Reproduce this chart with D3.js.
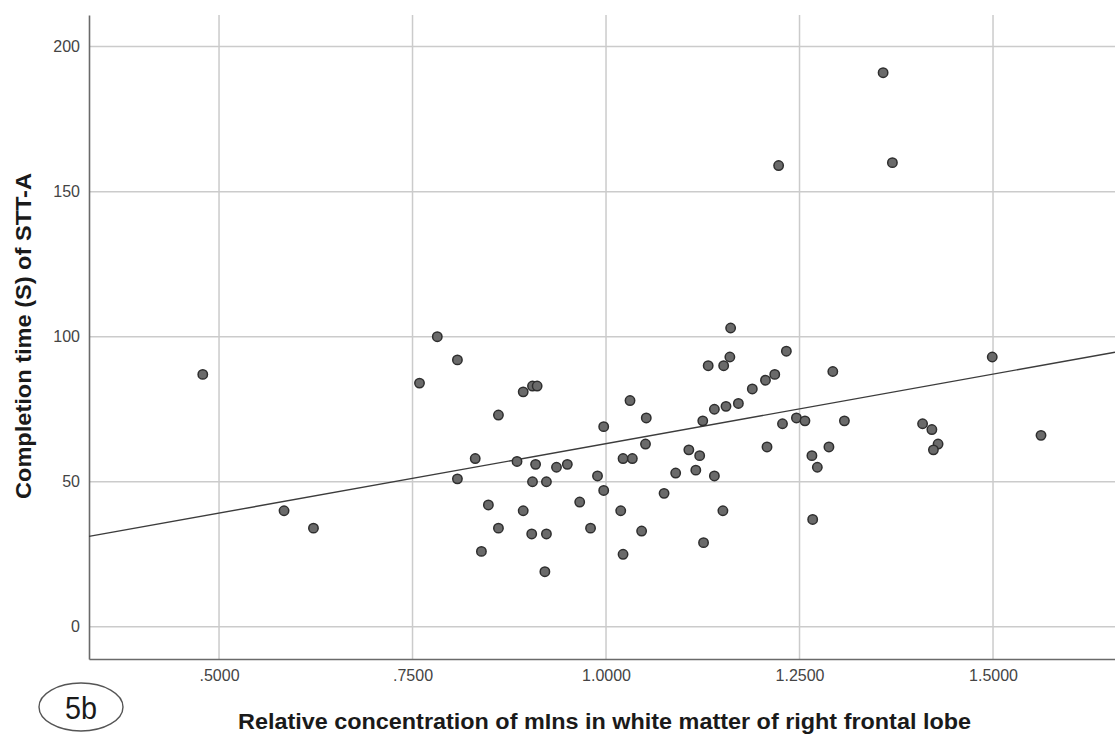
<!DOCTYPE html>
<html>
<head>
<meta charset="utf-8">
<script src="https://cdn.jsdelivr.net/npm/d3@7"></script>
<style>
  html, body { margin: 0; padding: 0; background: #fff; }
  svg { display: block; font-family: "Liberation Sans", Arial, sans-serif; }
</style>
</head>
<body>
<div id="chart"></div>
<script>
// data
var xTicks = [0.5, 0.75, 1.0, 1.25, 1.5];
var xTickLabels = [".5000", ".7500", "1.0000", "1.2500", "1.5000"];
var yTicks = [0, 50, 100, 150, 200];
var yTickLabels = ["0", "50", "100", "150", "200"];

// relative concentration of mIns (x) and completion time in seconds (y)
var concValues = [
  0.479, 0.584, 0.622, 0.782, 0.808, 0.759, 0.893, 0.905, 0.911, 0.861,
  0.997, 1.031, 1.052, 1.051, 0.831, 0.885, 0.909, 0.936, 0.950, 0.808,
  0.905, 0.923, 0.989, 0.997, 1.022, 1.034, 1.090, 1.075, 0.848, 0.893,
  0.966, 1.019, 0.861, 0.904, 0.923, 0.980, 1.046, 0.839, 1.022, 0.921,
  1.161, 1.233, 1.160, 1.132, 1.152, 1.293, 1.218, 1.206, 1.189, 1.171,
  1.155, 1.140, 1.125, 1.228, 1.246, 1.257, 1.308, 1.107, 1.121, 1.208,
  1.288, 1.266, 1.273, 1.116, 1.140, 1.151, 1.267, 1.126, 1.499, 1.409,
  1.421, 1.429, 1.423, 1.562, 1.358, 1.223, 1.370
];
var timeValues = [
  87, 40, 34, 100, 92, 84, 81, 83, 83, 73,
  69, 78, 72, 63, 58, 57, 56, 55, 56, 51,
  50, 50, 52, 47, 58, 58, 53, 46, 42, 40,
  43, 40, 34, 32, 32, 34, 33, 26, 25, 19,
  103, 95, 93, 90, 90, 88, 87, 85, 82, 77,
  76, 75, 71, 70, 72, 71, 71, 61, 59, 62,
  62, 59, 55, 54, 52, 40, 37, 29, 93, 70,
  68, 63, 61, 66, 191, 159, 160
];

// linear fit line
var fitIntercept = 15.25;
var fitSlope = 47.9;

var xTitle = "Relative concentration of mIns in white matter of right frontal lobe";
var yTitle = "Completion time (S) of STT-A";
var panelLabel = "5b";

var width = 1115, height = 734;

var svg = d3.select("#chart").append("svg")
  .attr("width", width)
  .attr("height", height);

var x = d3.scaleLinear().domain([0.332, 1.6576]).range([89, 1115]);
var y = d3.scaleLinear().domain([-11.1, 210.9]).range([659, 15]);

// grid
var grid = svg.append("g").attr("class", "grid");
grid.selectAll(".hgrid")
  .data(yTicks)
  .enter().append("line")
  .attr("x1", x.range()[0]).attr("x2", x.range()[1])
  .attr("y1", d => y(d)).attr("y2", d => y(d))
  .attr("stroke", "#cbcbcb").attr("stroke-width", 1.5);
grid.selectAll(".vgrid")
  .data(xTicks)
  .enter().append("line")
  .attr("x1", d => x(d)).attr("x2", d => x(d))
  .attr("y1", y.range()[0]).attr("y2", y.range()[1])
  .attr("stroke", "#cbcbcb").attr("stroke-width", 1.5);

// axes
var xAxis = d3.axisBottom(x).tickValues(xTicks)
  .tickFormat((d, i) => xTickLabels[i]).tickSize(0).tickPadding(11);
var yAxis = d3.axisLeft(y).tickValues(yTicks)
  .tickFormat((d, i) => yTickLabels[i]).tickSize(0).tickPadding(9);

var gx = svg.append("g").attr("transform", "translate(0," + y.range()[0] + ")").call(xAxis);
var gy = svg.append("g").attr("transform", "translate(" + x.range()[0] + ",0)").call(yAxis);
[gx, gy].forEach(function(g) {
  g.select(".domain").attr("stroke", "#6a6a6a").attr("stroke-width", 1.6);
  g.selectAll("text")
    .attr("fill", "#444")
    .style("font-size", "16px")
    .style("font-family", "'Liberation Sans', Arial, sans-serif");
});

// fit line
var fitX = x.domain();
svg.append("line")
  .attr("x1", x(fitX[0])).attr("y1", y(fitIntercept + fitSlope * fitX[0]))
  .attr("x2", x(fitX[1])).attr("y2", y(fitIntercept + fitSlope * fitX[1]))
  .attr("stroke", "#3c3c3c").attr("stroke-width", 1.4);

// points
var points = concValues.map((c, i) => ({ conc: c, time: timeValues[i] }));
svg.append("g").selectAll("circle")
  .data(points)
  .enter().append("circle")
  .attr("cx", d => x(d.conc))
  .attr("cy", d => y(d.time))
  .attr("r", 4.7)
  .attr("fill", "#6a6a6a")
  .attr("stroke", "#2e2e2e")
  .attr("stroke-width", 1.5);

// axis titles
svg.append("text")
  .attr("x", (238 + 971) / 2)
  .attr("y", 729)
  .attr("text-anchor", "middle")
  .attr("textLength", 733)
  .attr("lengthAdjust", "spacingAndGlyphs")
  .style("font-size", "22px")
  .style("font-weight", "bold")
  .attr("fill", "#1a1a1a")
  .text(xTitle);

svg.append("text")
  .attr("transform", "translate(31,336) rotate(-90)")
  .attr("text-anchor", "middle")
  .attr("textLength", 326)
  .attr("lengthAdjust", "spacingAndGlyphs")
  .style("font-size", "22px")
  .style("font-weight", "bold")
  .attr("fill", "#1a1a1a")
  .text(yTitle);

// panel label
svg.append("ellipse")
  .attr("cx", 81).attr("cy", 707)
  .attr("rx", 42).attr("ry", 24)
  .attr("fill", "none")
  .attr("stroke", "#555")
  .attr("stroke-width", 1.4);
svg.append("text")
  .attr("x", 81).attr("y", 719)
  .attr("text-anchor", "middle")
  .attr("textLength", 32)
  .attr("lengthAdjust", "spacingAndGlyphs")
  .style("font-size", "32px")
  .attr("fill", "#1a1a1a")
  .text(panelLabel);
</script>
</body>
</html>
